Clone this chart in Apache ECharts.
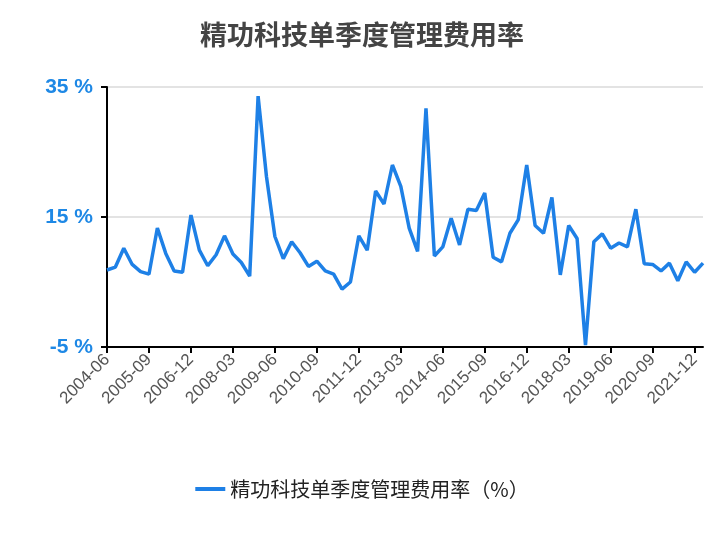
<!DOCTYPE html>
<html>
<head>
<meta charset="utf-8">
<script src="https://cdn.jsdelivr.net/npm/echarts@6/dist/echarts.min.js"></script>
<style>html,body{margin:0;padding:0;background:#fff}#chart{width:724px;height:540px}</style>
</head>
<body>
<div id="chart"></div>
<script>
const seriesName = "精功科技单季度管理费用率（%）";
const values = [
  6.85, 7.3, 10.2, 7.7, 6.6, 6.2, 13.3, 9.4, 6.7, 6.5,
  15.3, 9.9, 7.5, 9.2, 12.1, 9.3, 8.0, 5.9, 33.6, 21.2,
  12.0, 8.6, 11.2, 9.5, 7.4, 8.2, 6.7, 6.2, 3.9, 5.0,
  12.1, 9.9, 19.0, 17.0, 23.0, 19.7, 13.3, 9.7, 31.7, 9.0,
  10.4, 14.8, 10.7, 16.2, 16.0, 18.7, 8.8, 8.1, 12.5, 14.6,
  23.0, 13.7, 12.5, 18.0, 6.1, 13.7, 11.7, -4.7, 11.2, 12.4,
  10.2, 11.0, 10.4, 16.2, 7.8, 7.7, 6.7, 7.9, 5.2, 8.1,
  6.5, 7.9
];
// quarterly from 2004-06
const categories = [];
for (let i = 0; i < values.length; i++) {
  const m = 6 + i * 3;
  const y = 2004 + Math.floor((m - 1) / 12);
  const mm = ((m - 1) % 12) + 1;
  categories.push(y + "-" + String(mm).padStart(2, "0"));
}

const chart = echarts.init(document.getElementById("chart"));
chart.setOption({
  animation: false,
  title: {
    text: "精功科技单季度管理费用率",
    left: "center",
    top: 16,
    textStyle: {fontSize: 27, fontWeight: "bold", color: "#444", fontFamily: "Noto Sans CJK SC"}
  },
  legend: {
    bottom: 36,
    itemWidth: 30,
    itemHeight: 4,
    icon: "rect",
    textStyle: {fontSize: 20, color: "#222", fontFamily: "Noto Sans CJK SC"}
  },
  grid: {left: 107, right: 21, top: 87, bottom: 193},
  xAxis: {
    type: "category",
    data: categories,
    boundaryGap: false,
    axisLine: {onZero: false, lineStyle: {color: "#000", width: 2}},
    axisTick: {interval: 4, length: 6, lineStyle: {color: "#000", width: 2}},
    axisLabel: {interval: 4, rotate: 45, fontSize: 17, color: "#555", margin: 10}
  },
  yAxis: {
    type: "value",
    min: -5, max: 35, interval: 20,
    axisLine: {show: true, lineStyle: {color: "#000", width: 2}},
    axisTick: {show: true, length: 6, lineStyle: {color: "#000", width: 2}},
    splitLine: {lineStyle: {color: "#e3e3e3", width: 2}},
    axisLabel: {formatter: "{value} %", fontSize: 21, fontWeight: "bold", color: "#1e88e5", margin: 14}
  },
  series: [{
    name: seriesName,
    type: "line",
    data: values,
    symbol: "none",
    lineStyle: {color: "#1e80e6", width: 3.5},
    itemStyle: {color: "#1e80e6"}
  }]
});
</script>
</body>
</html>
